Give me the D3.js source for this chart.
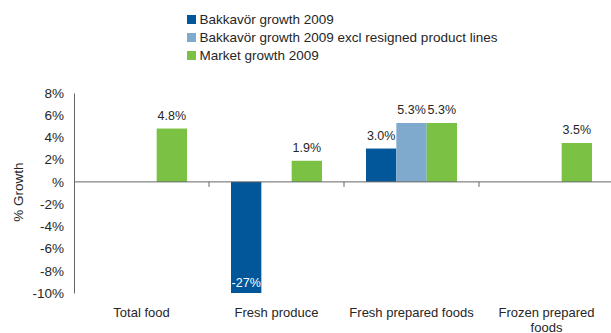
<!DOCTYPE html>
<html>
<head>
<meta charset="utf-8">
<script src="https://cdn.jsdelivr.net/npm/d3@7"></script>
<style>
  html, body { margin: 0; padding: 0; background: #fff; }
  svg { display: block; font-family: "Liberation Sans", Arial, sans-serif; }
</style>
</head>
<body>
<svg id="chart" width="611" height="333"></svg>
<script>
const categories = ["Total food", "Fresh produce", "Fresh prepared foods", "Frozen prepared foods"];
const xTickLabels = [["Total food"], ["Fresh produce"], ["Fresh prepared foods"], ["Frozen prepared", "foods"]];
const seriesNames = ["Bakkavör growth 2009", "Bakkavör growth 2009 excl resigned product lines", "Market growth 2009"];
const bakkavorGrowth = [null, -27, 3.0, null];
const bakkavorExcl = [null, null, 5.3, null];
const marketGrowth = [4.8, 1.9, 5.3, 3.5];
const valueLabels = [[null, "-27%", "3.0%", null], [null, null, "5.3%", null], ["4.8%", "1.9%", "5.3%", "3.5%"]];
const yTicks = [8, 6, 4, 2, 0, -2, -4, -6, -8, -10];
const yTickLabels = ["8%", "6%", "4%", "2%", "%", "-2%", "-4%", "-6%", "-8%", "-10%"];
const colors = ["#02569A", "#7FAACD", "#7BC143"];

(function () {
const seriesValues = [bakkavorGrowth, bakkavorExcl, marketGrowth];
const svg = d3.select("#chart");
const textColor = "#262626";

const pLeft = 74, pRight = 614, pTop = 93, pBottom = 293;
const y = d3.scaleLinear().domain([-10, 8]).range([pBottom, pTop]);
const x0 = d3.scaleBand().domain(categories).range([pLeft, pRight]).paddingInner(0.326).paddingOuter(0.163);
const x1 = d3.scaleBand().domain(d3.range(seriesNames.length)).range([0, x0.bandwidth()]);

// bars
const barData = [];
seriesValues.forEach((vals, s) => vals.forEach((v, i) => {
  if (v !== null) barData.push({ s, i, v, label: valueLabels[s][i] });
}));
const clampV = v => Math.max(y.domain()[0], Math.min(y.domain()[1], v));
svg.append("g").selectAll("rect").data(barData).join("rect")
  .attr("x", d => x0(categories[d.i]) + x1(d.s))
  .attr("width", x1.bandwidth())
  .attr("y", d => y(Math.max(0, clampV(d.v))))
  .attr("height", d => Math.abs(y(clampV(d.v)) - y(0)))
  .attr("fill", d => colors[d.s]);

// value labels
svg.append("g").selectAll("text").data(barData).join("text")
  .attr("x", d => x0(categories[d.i]) + x1(d.s) + x1.bandwidth() / 2)
  .attr("y", d => d.v >= 0 ? y(d.v) - 9 : y(clampV(d.v)) - 6)
  .attr("text-anchor", "middle")
  .attr("font-size", 12.5)
  .attr("fill", d => d.v >= 0 ? textColor : "#fff")
  .text(d => d.label);

// y axis
const yAxis = d3.axisLeft(y).tickValues(yTicks).tickSize(0).tickPadding(10)
  .tickFormat((d, i) => yTickLabels[i]);
const gy = svg.append("g").attr("transform", `translate(${pLeft},0)`).call(yAxis);
gy.select(".domain").attr("stroke", "#666");
gy.selectAll("text").attr("font-size", 13.5).attr("fill", textColor)
  .attr("font-family", "Liberation Sans, Arial, sans-serif");

// zero line
svg.append("line").attr("x1", pLeft).attr("x2", 611).attr("y1", y(0)).attr("y2", y(0))
  .attr("stroke", "#666").attr("stroke-width", 1);

// category boundary ticks
const step = x0.step();
svg.append("g").selectAll("line").data(categories.slice(1)).join("line")
  .attr("x1", d => x0(d) - step * x0.paddingInner() / 2)
  .attr("x2", d => x0(d) - step * x0.paddingInner() / 2)
  .attr("y1", y(0)).attr("y2", y(0) + 5)
  .attr("stroke", "#666");

// category labels
const cl = svg.append("g").selectAll("text").data(categories).join("text")
  .attr("text-anchor", "middle").attr("font-size", 13).attr("fill", textColor)
  .attr("transform", d => `translate(${x0(d) + x0.bandwidth() / 2},317)`);
cl.each(function(d, i) {
  d3.select(this).selectAll("tspan").data(xTickLabels[i]).join("tspan")
    .attr("x", 0).attr("dy", (t, j) => j === 0 ? 0 : 15).text(t => t);
});

// y title
svg.append("text").attr("transform", "translate(23,192) rotate(-90)")
  .attr("text-anchor", "middle").attr("font-size", 13.5).attr("fill", textColor)
  .text("% Growth");

// legend
const lg = svg.append("g").selectAll("g").data(seriesNames).join("g")
  .attr("transform", (d, i) => `translate(187,${15 + i * 18})`);
lg.append("rect").attr("width", 9).attr("height", 9).attr("fill", (d, i) => colors[i]);
lg.append("text").attr("x", 12.5).attr("y", 8.5).attr("font-size", 13.5).attr("fill", textColor).text(d => d);
})();
</script>
</body>
</html>
